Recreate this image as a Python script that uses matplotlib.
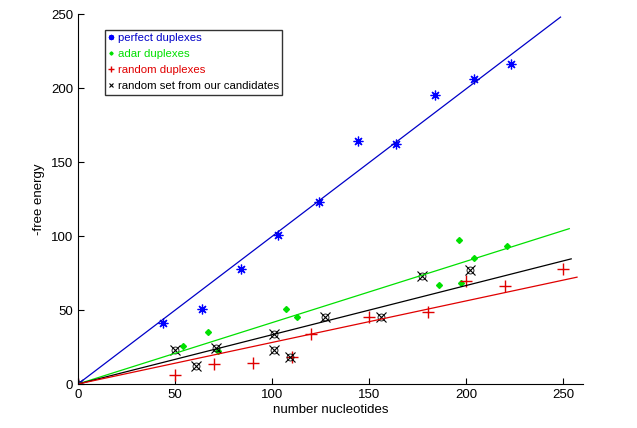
import matplotlib
matplotlib.use("Agg")
import matplotlib.pyplot as plt
import numpy as np

plt.rcParams["font.family"] = ["Liberation Sans", "DejaVu Sans"]

# perfect duplexes
perfect_x = [0, 44, 64, 84, 103, 124, 144, 164, 184, 204, 223]
perfect_y = [0, 41, 51, 78, 101, 123, 164, 162, 195, 206, 216]
# adar duplexes
adar_x = [0, 54, 67, 72, 107, 113, 186, 196, 197, 204, 221]
adar_y = [0, 26, 35, 22, 51, 45, 67, 97, 68, 85, 93]
# random duplexes
rand_x = [0, 50, 70, 90, 110, 120, 150, 180, 200, 220, 250]
rand_y = [0, 6, 13.5, 14, 18, 34, 45, 49, 69.5, 66, 78]
# random set from our candidates
cand_x = [0, 50, 61, 71, 101, 101, 109, 127, 156, 177, 202]
cand_y = [0, 23, 12, 24, 34, 23, 18, 45, 45, 73, 77]

# fitted lines through the origin: (slope, x end)
fit_perfect = (0.998, 248.5)
fit_adar = (0.415, 253)
fit_rand = (0.281, 257)
fit_cand = (0.333, 254)

BLUE = "#0000ff"
BLUE_LINE = "#0000c8"
GREEN = "#00e000"
RED = "#e00000"
BLACK = "#000000"

fig = plt.figure(figsize=(6.37, 4.28), dpi=100)
ax = fig.add_axes([0.1224, 0.1028, 0.7926, 0.8642])

def fit_line(fit, color):
    slope, xend = fit
    xs = np.array([0, xend])
    ax.plot(xs, slope * xs, color=color, lw=0.9)

h1, = ax.plot(perfect_x, perfect_y, ls="none", marker=(8, 2, 0), ms=7, mew=0.9, color=BLUE)
h2, = ax.plot(adar_x, adar_y, ls="none", marker="D", ms=3, color=GREEN)
h3, = ax.plot(rand_x, rand_y, ls="none", marker="+", ms=9, mew=1.0, color=RED)
h4, = ax.plot(cand_x, cand_y, ls="none", marker="x", ms=6.5, mew=0.8, color=BLACK)
ax.plot(cand_x, cand_y, ls="none", marker="o", ms=5, mew=0.6, mfc="none", mec=BLACK)

fit_line(fit_perfect, BLUE_LINE)
fit_line(fit_adar, GREEN)
fit_line(fit_cand, BLACK)
fit_line(fit_rand, RED)

ax.set_xlim(0, 260)
ax.set_ylim(0, 250)
ax.set_xticks([0, 50, 100, 150, 200, 250])
ax.set_yticks([0, 50, 100, 150, 200, 250])
ax.spines["top"].set_visible(False)
ax.spines["right"].set_visible(False)
ax.tick_params(direction="in", length=4, labelsize=9.5)
ax.set_xlabel("number nucleotides", fontsize=9.5, labelpad=2)
ax.set_ylabel("-free energy", fontsize=9.5, labelpad=4)

leg = ax.legend(
    [h1, h2, h3, h4],
    ["perfect duplexes", "adar duplexes", "random duplexes", "random set from our candidates"],
    loc="upper left", bbox_to_anchor=(0.053, 0.957), fontsize=8.2, frameon=True,
    fancybox=False, edgecolor="black", handlelength=0.5, handletextpad=0.35,
    borderpad=0.3, labelspacing=0.52, markerscale=0.55, borderaxespad=0,
)
leg.get_frame().set_linewidth(1.0)
for txt, c in zip(leg.get_texts(), [BLUE_LINE, GREEN, RED, BLACK]):
    txt.set_color(c)

fig.savefig("out.png", dpi=100)
